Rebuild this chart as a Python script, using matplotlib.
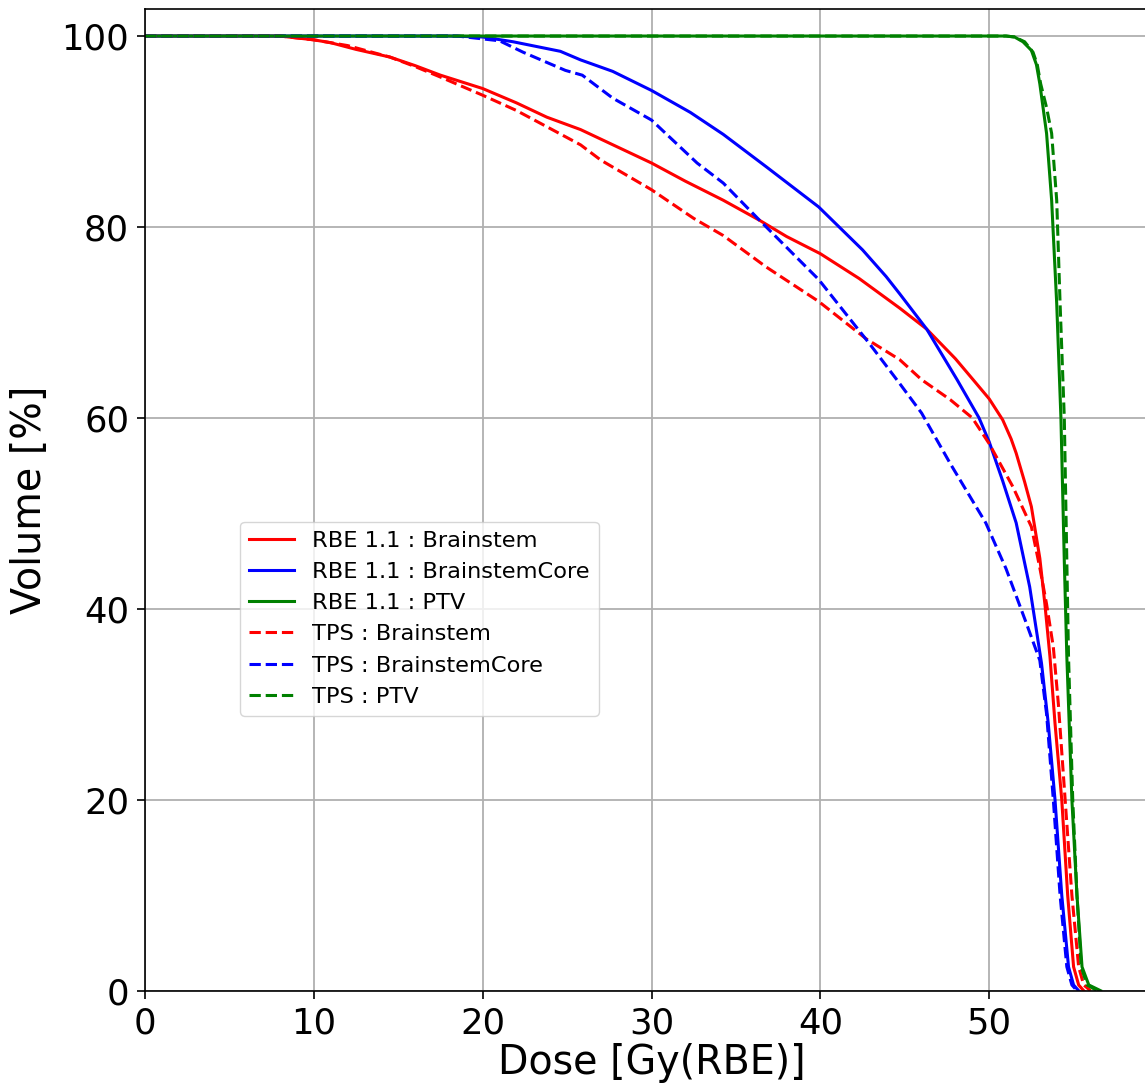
import matplotlib
matplotlib.use("Agg")
import matplotlib.pyplot as plt

# ---- data ----
rbe_brainstem_dose = [0, 8, 10, 11, 12.5, 14.5, 16, 17.5, 20, 22, 23.8, 25.8, 27, 30, 32,
                      34.25, 36.4, 38, 40, 42.3, 44.7, 46.3, 48, 49.05, 50, 50.8, 51.3, 51.6,
                      52.1, 52.5, 53.0, 53.3, 53.6, 53.9, 54.3, 54.65, 55.0, 55.3, 55.6]
rbe_brainstem_vol = [100, 100, 99.6, 99.3, 98.6, 97.8, 96.9, 95.9, 94.5, 93.0, 91.5, 90.2,
                     89.2, 86.7, 84.8, 82.8, 80.7, 79.0, 77.2, 74.6, 71.5, 69.3, 66.2, 64.0,
                     62.0, 59.8, 57.8, 56.3, 53.3, 50.7, 45.3, 40.5, 35.0, 28.0, 20.0, 10.0,
                     2.5, 0.6, 0]

tps_brainstem_dose = [0, 8, 10, 12, 14.5, 16, 17.5, 20, 22, 23.8, 25.8, 27, 30, 32.5, 34.25,
                      36.8, 39.9, 42.7, 44.7, 46, 47.7, 49, 50, 51.4, 52.5, 53.0, 53.4,
                      53.8, 54.1, 54.5, 54.9, 55.3, 55.6, 56.0]
tps_brainstem_vol = [100, 100, 99.6, 99.0, 97.8, 96.8, 95.7, 93.8, 92.2, 90.5, 88.6, 87.0,
                     83.9, 80.9, 79.1, 75.8, 72.2, 68.3, 66.1, 64.0, 61.9, 60.0, 57.3, 52.8,
                     48.6, 44.3, 40.5, 36.0, 30.0, 20.0, 10.0, 2.5, 0.6, 0]

rbe_core_dose = [0, 18, 20, 21.8, 24.6, 25.8, 27.7, 30, 32.3, 34.25, 36.8, 39.9, 42.5, 43.9,
                 44.7, 46.3, 48.1, 49.4, 50, 50.8, 51.6, 52.4, 53.1, 53.5, 53.9, 54.3, 54.7,
                 55.0, 55.3]
rbe_core_vol = [100, 100, 99.9, 99.4, 98.4, 97.5, 96.3, 94.3, 92.0, 89.7, 86.3, 82.1, 77.6,
                74.8, 73.0, 69.3, 64.0, 60.0, 57.5, 53.4, 49.0, 42.3, 34.3, 28.0, 20.0, 10.0,
                2.5, 0.6, 0]

tps_core_dose = [0, 18.5, 21.0, 22.4, 24.9, 25.9, 27.7, 30, 32.7, 34.25, 36.4, 39.9, 42.9,
                 44.7, 46, 47.7, 49.8, 51.0, 52.2, 53.0, 53.4, 53.8, 54.2, 54.6, 54.9, 55.2]
tps_core_vol = [100, 100, 99.5, 98.3, 96.4, 95.9, 93.5, 91.2, 86.7, 84.6, 80.7, 74.5, 67.8,
                63.6, 60.5, 55.2, 49.0, 44.2, 38.5, 34.6, 29.0, 20.0, 10.0, 2.5, 0.6, 0]

rbe_ptv_dose = [0, 51.0, 51.5, 52.0, 52.5, 52.8, 53.0, 53.4, 53.7, 54.0, 54.25, 54.45, 54.6,
                54.9, 55.2, 55.5, 55.9, 56.6]
rbe_ptv_vol = [100, 100, 99.9, 99.4, 98.5, 97.0, 95.0, 89.8, 82.8, 72.0, 60.0, 45.0, 35.0,
               20.0, 10.0, 2.5, 0.6, 0]

tps_ptv_dose = [0, 51.0, 51.5, 52.1, 52.6, 52.85, 53.05, 53.4, 53.7, 54.0, 54.2, 54.45, 54.6,
                54.7, 54.95, 55.2, 55.45, 55.8, 56.4]
tps_ptv_vol = [100, 100, 99.9, 99.4, 98.3, 97.0, 95.0, 92.5, 89.8, 82.8, 72.0, 60.0, 45.0,
               35.0, 20.0, 10.0, 2.5, 0.6, 0]

labels = ["RBE 1.1 : Brainstem", "RBE 1.1 : BrainstemCore", "RBE 1.1 : PTV",
          "TPS : Brainstem", "TPS : BrainstemCore", "TPS : PTV"]
x_ticks = [0, 10, 20, 30, 40, 50]
y_ticks = [0, 20, 40, 60, 80, 100]

# ---- figure ----
W, H = 1145, 1086
fig = plt.figure(figsize=(W / 100, H / 100), dpi=100)
left = 145 / W
right = 1158 / W
bottom = (H - 990.7) / H
top = (H - 9.3) / H
ax = fig.add_axes([left, bottom, right - left, top - bottom])

lw = 2.2
series = [
    (rbe_brainstem_dose, rbe_brainstem_vol, "red", "-"),
    (rbe_core_dose, rbe_core_vol, "blue", "-"),
    (rbe_ptv_dose, rbe_ptv_vol, "green", "-"),
    (tps_brainstem_dose, tps_brainstem_vol, "red", "--"),
    (tps_core_dose, tps_core_vol, "blue", "--"),
    (tps_ptv_dose, tps_ptv_vol, "green", "--"),
]
for (d, v, c, ls), lab in zip(series, labels):
    ax.plot(d, v, color=c, linestyle=ls, linewidth=lw, label=lab)

ax.set_xlim(0, 60)
ax.set_ylim(0, 102.8)
ax.set_xticks(x_ticks)
ax.set_yticks(y_ticks)
ax.grid(True, color="#b0b0b0", linewidth=1.3)
ax.set_axisbelow(True)
for s in ax.spines.values():
    s.set_linewidth(1.2)
ax.tick_params(labelsize=25.5, length=5.8, width=1.2, pad=5.6)
ax.set_xlabel("Dose [Gy(RBE)]", fontsize=28.5, labelpad=2)
ax.set_ylabel("Volume [%]", fontsize=28.5, labelpad=8)

ax.legend(loc="upper left", bbox_to_anchor=(0.094, 0.478), borderaxespad=0,
          fontsize=16.2, handlelength=2.0, labelspacing=0.5)

fig.savefig("out.png", dpi=100)
